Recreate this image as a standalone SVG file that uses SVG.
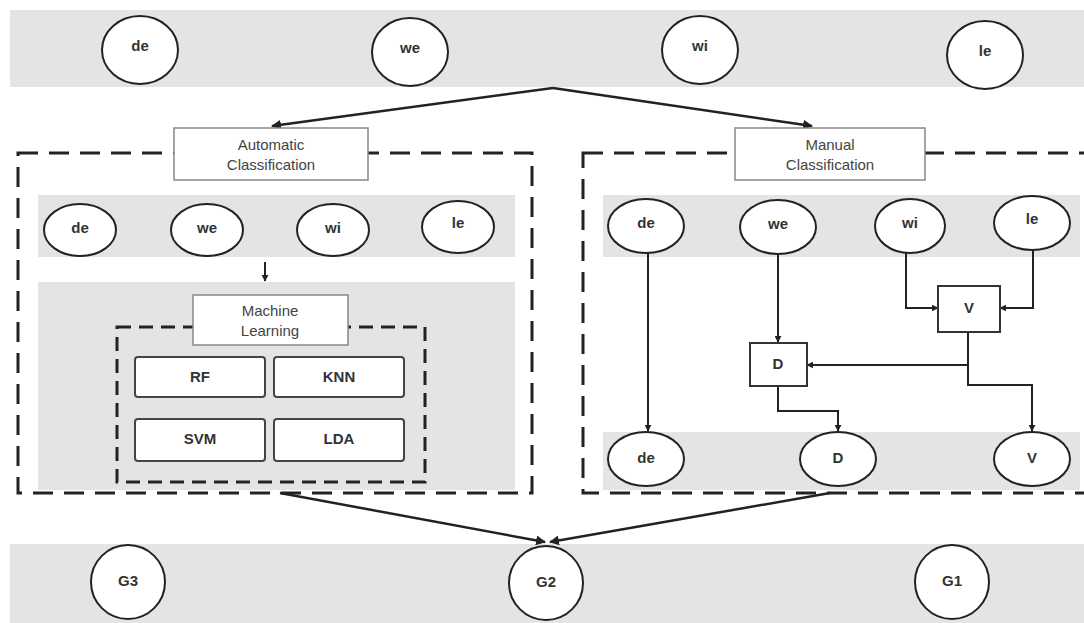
<svg xmlns="http://www.w3.org/2000/svg" width="1084" height="623" viewBox="0 0 1084 623">
<style>
.band{fill:#e4e4e4}
.node ellipse{fill:#fff;stroke:#222;stroke-width:2}
.lbl{font-family:"Liberation Sans",Arial,sans-serif;font-weight:bold;font-size:15px;fill:#333;text-anchor:middle}
.box{fill:#fff;stroke:#888;stroke-width:1.5}
.boxt{font-family:"Liberation Sans",Arial,sans-serif;font-size:15px;fill:#444;text-anchor:middle}
.alg{fill:#fff;stroke:#444;stroke-width:2}
.sq{fill:#fff;stroke:#333;stroke-width:2}
.dash{fill:none;stroke:#222;stroke-width:3;stroke-dasharray:20 11}
.dash2{fill:none;stroke:#222;stroke-width:3;stroke-dasharray:14 8}
.c{fill:none;stroke:#222;stroke-width:2}
.c2{fill:none;stroke:#222;stroke-width:2.5}
</style>
<defs>
<marker id="ah" viewBox="0 0 10 10" refX="9" refY="5" markerWidth="4" markerHeight="4" orient="auto"><path d="M0,0 L10,5 L0,10 z" fill="#222"/></marker>
<marker id="ah2" viewBox="0 0 10 10" refX="9" refY="5" markerWidth="3.5" markerHeight="3.5" orient="auto"><path d="M0,0 L10,5 L0,10 z" fill="#222"/></marker>
</defs>
<rect width="1084" height="623" fill="#fff"/>
<!-- bands -->
<rect class="band" x="10" y="10" width="1074" height="77"/>
<rect class="band" x="10" y="544" width="1074" height="79"/>
<rect class="band" x="38" y="195" width="477" height="62"/>
<rect class="band" x="38" y="282" width="477" height="208"/>
<rect class="band" x="603" y="195" width="477" height="62"/>
<rect class="band" x="603" y="432" width="477" height="58"/>
<!-- dashed containers -->
<rect class="dash" x="18" y="153" width="514" height="340"/>
<rect class="dash" x="583" y="153" width="520" height="340"/>
<rect class="dash2" x="117" y="327" width="308" height="155"/>
<!-- connectors -->
<g id="connectors">
<path class="c2" d="M553,88 L272,126" marker-end="url(#ah)"/>
<path class="c2" d="M553,88 L812,126" marker-end="url(#ah)"/>
<path class="c" d="M265,262 L265,281" marker-end="url(#ah2)"/>
<path class="c2" d="M280,493 L545,542" marker-end="url(#ah)"/>
<path class="c2" d="M830,493 L550,542" marker-end="url(#ah)"/>
<path class="c" d="M648,252 L648,431" marker-end="url(#ah2)"/>
<path class="c" d="M778,254 L778,342" marker-end="url(#ah2)"/>
<path class="c" d="M906,252 L906,308 L938,308" marker-end="url(#ah2)"/>
<path class="c" d="M1033,250 L1033,308 L1000,308" marker-end="url(#ah2)"/>
<path class="c" d="M968,332 L968,365 L807,365" marker-end="url(#ah2)"/>
<path class="c" d="M968,365 L968,385 L1032,385 L1032,431" marker-end="url(#ah2)"/>
<path class="c" d="M778,386 L778,411 L838,411 L838,431" marker-end="url(#ah2)"/>
</g>
<!-- top band nodes -->
<g id="top-de" class="node"><ellipse cx="140" cy="50" rx="38" ry="34"/><text class="lbl" x="140" y="51">de</text></g>
<g id="top-we" class="node"><ellipse cx="410" cy="52" rx="38" ry="34"/><text class="lbl" x="410" y="53">we</text></g>
<g id="top-wi" class="node"><ellipse cx="700" cy="50" rx="38" ry="34"/><text class="lbl" x="700" y="51">wi</text></g>
<g id="top-le" class="node"><ellipse cx="985" cy="55" rx="38" ry="34"/><text class="lbl" x="985" y="56">le</text></g>
<!-- classification boxes -->
<g id="auto-box"><rect class="box" x="174" y="128" width="194" height="52"/><text class="boxt" x="271" y="150">Automatic</text><text class="boxt" x="271" y="170">Classification</text></g>
<g id="manual-box"><rect class="box" x="735" y="128" width="190" height="52"/><text class="boxt" x="830" y="150">Manual</text><text class="boxt" x="830" y="170">Classification</text></g>
<!-- left inner nodes -->
<g id="a-de" class="node"><ellipse cx="80" cy="230" rx="36" ry="26"/><text class="lbl" x="80" y="233">de</text></g>
<g id="a-we" class="node"><ellipse cx="207" cy="230" rx="36" ry="26"/><text class="lbl" x="207" y="233">we</text></g>
<g id="a-wi" class="node"><ellipse cx="333" cy="230" rx="36" ry="26"/><text class="lbl" x="333" y="233">wi</text></g>
<g id="a-le" class="node"><ellipse cx="458" cy="227" rx="36" ry="26"/><text class="lbl" x="458" y="228">le</text></g>
<g id="ml-box"><rect class="box" x="193" y="295" width="155" height="50"/><text class="boxt" x="270" y="316">Machine</text><text class="boxt" x="270" y="336">Learning</text></g>
<g id="rf"><rect class="alg" x="135" y="357" width="130" height="40" rx="3"/><text class="lbl" x="200" y="382">RF</text></g>
<g id="knn"><rect class="alg" x="274" y="357" width="130" height="40" rx="3"/><text class="lbl" x="339" y="382">KNN</text></g>
<g id="svm"><rect class="alg" x="135" y="419" width="130" height="42" rx="3"/><text class="lbl" x="200" y="444">SVM</text></g>
<g id="lda"><rect class="alg" x="274" y="419" width="130" height="42" rx="3"/><text class="lbl" x="339" y="444">LDA</text></g>
<!-- right inner nodes -->
<g id="m-de" class="node"><ellipse cx="646" cy="226" rx="38" ry="27"/><text class="lbl" x="646" y="228">de</text></g>
<g id="m-we" class="node"><ellipse cx="778" cy="227" rx="38" ry="27"/><text class="lbl" x="778" y="229">we</text></g>
<g id="m-wi" class="node"><ellipse cx="910" cy="226" rx="35" ry="27"/><text class="lbl" x="910" y="228">wi</text></g>
<g id="m-le" class="node"><ellipse cx="1032" cy="223" rx="38" ry="27"/><text class="lbl" x="1032" y="224">le</text></g>
<g id="m-V" ><rect class="sq" x="938" y="286" width="62" height="46"/><text class="lbl" x="969" y="313">V</text></g>
<g id="m-D" ><rect class="sq" x="750" y="343" width="57" height="43"/><text class="lbl" x="778" y="369">D</text></g>
<g id="o-de" class="node"><ellipse cx="646" cy="459" rx="38" ry="27"/><text class="lbl" x="646" y="463">de</text></g>
<g id="o-D" class="node"><ellipse cx="838" cy="459" rx="38" ry="27"/><text class="lbl" x="838" y="463">D</text></g>
<g id="o-V" class="node"><ellipse cx="1032" cy="459" rx="38" ry="27"/><text class="lbl" x="1032" y="463">V</text></g>
<!-- bottom -->
<g id="g3" class="node"><ellipse cx="128" cy="582" rx="37" ry="37"/><text class="lbl" x="128" y="586">G3</text></g>
<g id="g2" class="node"><ellipse cx="546" cy="583" rx="37" ry="37"/><text class="lbl" x="546" y="587">G2</text></g>
<g id="g1" class="node"><ellipse cx="952" cy="582" rx="37" ry="37"/><text class="lbl" x="952" y="586">G1</text></g>
</svg>
